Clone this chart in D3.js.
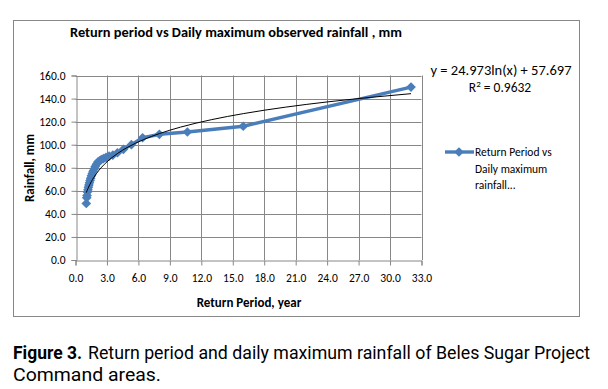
<!DOCTYPE html>
<html><head><meta charset="utf-8">
<script src="https://cdn.jsdelivr.net/npm/d3@7"></script>
<style>body{margin:0;background:#fff}svg{display:block}</style>
</head><body>
<svg id="c" width="608" height="389"></svg>
<script>
const returnPeriod = [32, 16, 10.67, 8, 6.4, 5.33, 4.57, 4, 3.56, 3.2, 2.91, 2.67, 2.46, 2.29, 2.13, 2, 1.88, 1.78, 1.68, 1.6, 1.52, 1.45, 1.39, 1.33, 1.28, 1.23, 1.19, 1.14, 1.1, 1.07, 1.03];
const rainfall = [150, 116, 111, 109, 106, 100, 96, 93, 91, 90, 89, 88, 87, 86, 85, 83, 81, 79, 77, 75, 73, 71, 69, 67, 65, 63, 61, 59, 56, 54, 49];
const xTicks = [0, 3, 6, 9, 12, 15, 18, 21, 24, 27, 30, 33];
const yTicks = [0, 20, 40, 60, 80, 100, 120, 140, 160];
const trendA = 24.973, trendB = 57.697;
const trendX = [1.03, 1.1, 1.2, 1.35, 1.5, 1.75, 2, 2.5, 3, 4, 5, 6.5, 8, 10, 13, 16, 20, 24, 28, 32];

const svg = d3.select("#c");
const grid = "#878787";
const font = "Calibri, Carlito, 'Open Sans', 'Liberation Sans', sans-serif";

svg.append("rect").attr("x", 13.5).attr("y", 20.5).attr("width", 566).attr("height", 296)
  .attr("fill", "#fff").attr("stroke", grid).attr("stroke-width", 1);

const x = d3.scaleLinear().domain([0, 33]).range([75.5, 421.5]);
const y = d3.scaleLinear().domain([0, 160]).range([260, 75.5]);

// gridlines
svg.append("g").selectAll("line").data(xTicks.slice(1)).join("line")
  .attr("x1", d => Math.round(x(d)) + 0.5).attr("x2", d => Math.round(x(d)) + 0.5)
  .attr("y1", y(160)).attr("y2", y(0)).attr("stroke", grid);
svg.append("g").selectAll("line").data(yTicks.slice(1)).join("line")
  .attr("y1", d => Math.round(y(d)) + 0.5).attr("y2", d => Math.round(y(d)) + 0.5)
  .attr("x1", x(0)).attr("x2", x(33)).attr("stroke", grid);

// axes
const xAxis = svg.append("g").attr("transform", `translate(0,${Math.round(y(0)) + 0.5})`)
  .call(d3.axisBottom(x).tickValues(xTicks).tickFormat(d3.format(".1f")).tickSize(5).tickPadding(8));
const yAxis = svg.append("g").attr("transform", `translate(${Math.round(x(0)) + 0.5},0)`)
  .call(d3.axisLeft(y).tickValues(yTicks).tickFormat(d3.format(".1f")).tickSize(5).tickPadding(6));
[xAxis, yAxis].forEach(g => {
  g.select(".domain").attr("stroke", grid);
  g.selectAll(".tick line").attr("stroke", grid);
  g.selectAll("text").attr("fill", "#000").attr("font-family", font).attr("font-size", 11.5);
});

// series line
const line = d3.line().x((d, i) => x(returnPeriod[i])).y(d => y(d));
svg.append("path").datum(rainfall).attr("d", line).attr("fill", "none")
  .attr("stroke", "#4a7ebb").attr("stroke-width", 3.4).attr("stroke-linejoin", "round");
const diamond = d3.symbol().type(d3.symbolDiamond2).size(60);
svg.append("g").selectAll("path").data(rainfall).join("path")
  .attr("d", diamond).attr("transform", (d, i) => `translate(${x(returnPeriod[i])},${y(d)})`)
  .attr("fill", "#4a7ebb");

// trendline
const tl = d3.line().x(d => x(d)).y(d => y(trendA * Math.log(d) + trendB)).curve(d3.curveMonotoneX);
svg.append("path").datum(trendX).attr("d", tl).attr("fill", "none").attr("stroke", "#000").attr("stroke-width", 1);

// title
svg.append("text").attr("x", 236).attr("y", 37).attr("text-anchor", "middle")
  .attr("font-family", font).attr("font-weight", "bold").attr("font-size", 14.5)
  .attr("textLength", 332).attr("lengthAdjust", "spacingAndGlyphs")
  .text("Return period vs Daily maximum observed rainfall , mm");

// axis titles
svg.append("text").attr("x", 249).attr("y", 307).attr("text-anchor", "middle")
  .attr("font-family", font).attr("font-weight", "bold").attr("font-size", 13)
  .text("Return Period, year");
svg.append("text").attr("transform", "translate(34,168) rotate(-90)").attr("text-anchor", "middle")
  .attr("font-family", font).attr("font-weight", "bold").attr("font-size", 13)
  .text("Rainfall, mm");

// equation
svg.append("text").attr("x", 501).attr("y", 75).attr("text-anchor", "middle")
  .attr("font-family", font).attr("font-size", 13.5)
  .attr("textLength", 141).attr("lengthAdjust", "spacingAndGlyphs")
  .text("y = 24.973ln(x) + 57.697");
const r2 = svg.append("text").attr("x", 500).attr("y", 92).attr("text-anchor", "middle")
  .attr("font-family", font).attr("font-size", 13.5);
r2.append("tspan").text("R");
r2.append("tspan").attr("dy", -5).attr("font-size", 9).text("2");
r2.append("tspan").attr("dy", 5).text(" = 0.9632");

// legend
const lg = svg.append("g");
lg.append("line").attr("x1", 445).attr("x2", 474).attr("y1", 152).attr("y2", 152)
  .attr("stroke", "#4a7ebb").attr("stroke-width", 3.4);
lg.append("path").attr("d", diamond).attr("transform", "translate(459,152)").attr("fill", "#4a7ebb");
["Return Period vs", "Daily maximum", "rainfall..."].forEach((t, i) => {
  lg.append("text").attr("x", 475).attr("y", 156 + i * 16.5)
    .attr("font-family", font).attr("font-size", 11.5).text(t);
});

// caption
const capFont = "Roboto, 'Liberation Sans', sans-serif";
svg.append("text").attr("x", 13).attr("y", 359).attr("font-family", capFont).attr("font-size", 18)
  .attr("font-weight", "bold").attr("textLength", 69).attr("lengthAdjust", "spacingAndGlyphs")
  .text("Figure 3.");
svg.append("text").attr("x", 88).attr("y", 359).attr("font-family", capFont).attr("font-size", 18)
  .attr("textLength", 502).attr("lengthAdjust", "spacingAndGlyphs")
  .text("Return period and daily maximum rainfall of Beles Sugar Project");
svg.append("text").attr("x", 13).attr("y", 381).attr("font-family", capFont).attr("font-size", 18)
  .attr("textLength", 148).attr("lengthAdjust", "spacingAndGlyphs")
  .text("Command areas.");
</script>
</body></html>
